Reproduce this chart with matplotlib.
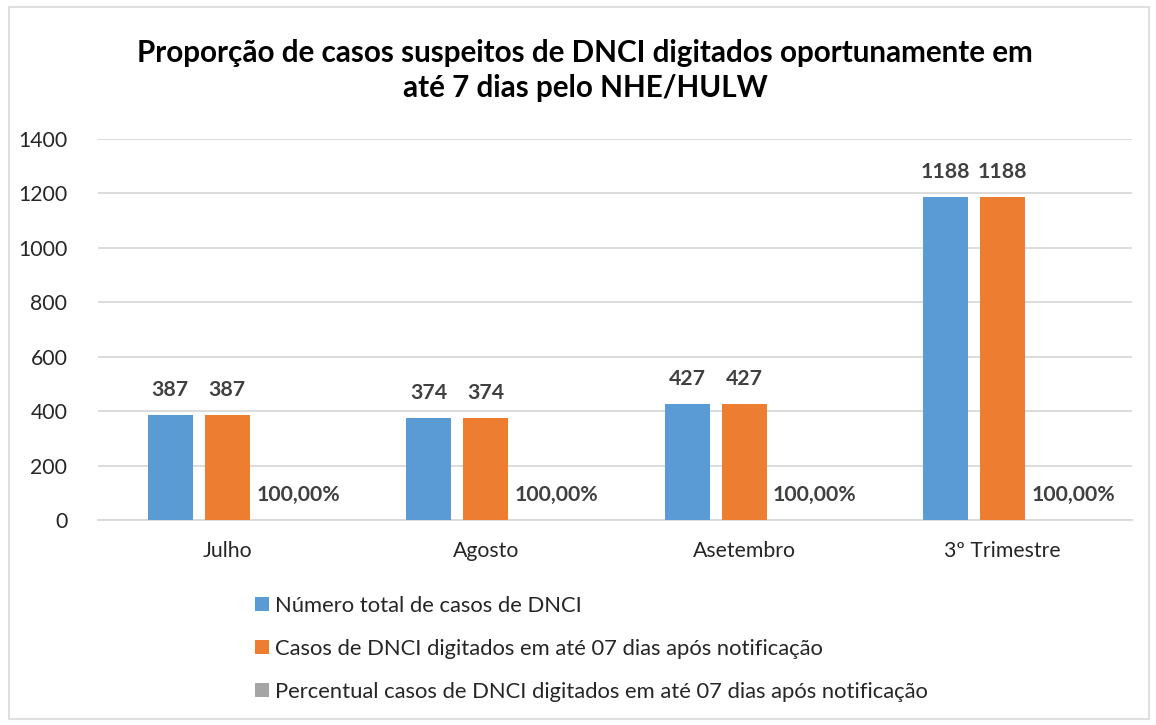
import matplotlib
matplotlib.use("Agg")
import matplotlib.pyplot as plt
import numpy as np
from matplotlib.patches import Rectangle

categories = ["Julho", "Agosto", "Asetembro", "3º Trimestre"]
total_casos = [387, 374, 427, 1188]
casos_7_dias = [387, 374, 427, 1188]
percentual = [1.0, 1.0, 1.0, 1.0]
series_names = ["Número total de casos de DNCI",
                "Casos de DNCI digitados em até 07 dias após notificação",
                "Percentual casos de DNCI digitados em até 07 dias após notificação"]
y_ticks = [0, 200, 400, 600, 800, 1000, 1200, 1400]

plt.rcParams['font.family'] = ['Lato', 'DejaVu Sans']

fig = plt.figure(figsize=(11.56, 7.25), dpi=100)
fig.patches.append(Rectangle((9 / 1156, 6 / 725), 1140 / 1156, 712 / 725, transform=fig.transFigure,
                             fill=False, edgecolor="#D9D9D9", linewidth=1.2))

ax = fig.add_axes([0.0848, 0.2828, 0.8942, 0.5255])

x = np.arange(len(categories))
width = 0.174
step = 0.2205
colors = ["#5B9BD5", "#ED7D31", "#A5A5A5"]

bars_total = ax.bar(x - step, total_casos, width, color=colors[0], label=series_names[0], zorder=3)
bars_7 = ax.bar(x, casos_7_dias, width, color=colors[1], label=series_names[1], zorder=3)
bars_pct = ax.bar(x + step, percentual, width, color=colors[2], label=series_names[2], zorder=3)

for bars in (bars_total, bars_7):
    for b in bars:
        ax.annotate(str(int(b.get_height())), (b.get_x() + b.get_width() / 2, b.get_height()),
                    xytext=(0, 18), textcoords="offset points", ha="center", va="center",
                    fontsize=15.3, fontweight="bold", color="#404040")
for b, v in zip(bars_pct, percentual):
    ax.annotate(f"{v * 100:.2f}%".replace(".", ","), (b.get_x() + b.get_width() / 2, b.get_height()),
                xytext=(10, 18), textcoords="offset points", ha="center", va="center",
                fontsize=15.3, fontweight="bold", color="#404040")

ax.set_ylim(0, 1400)
ax.set_xlim(-0.5, len(categories) - 0.5)
ax.set_yticks(y_ticks)
ax.set_xticks(x)
ax.set_xticklabels(categories)
ax.tick_params(axis="both", length=0, labelsize=15.3, labelcolor="#262626")
ax.tick_params(axis="x", pad=15)
ax.tick_params(axis="y", pad=22)
ax.grid(axis="y", color="#D9D9D9", linewidth=1.3, zorder=0)
for s in ["top", "right", "left"]:
    ax.spines[s].set_visible(False)
ax.spines["bottom"].set_color("#D9D9D9")
ax.spines["bottom"].set_linewidth(1.3)

fig.text(0.506, 0.903, "Proporção de casos suspeitos de DNCI digitados oportunamente em\naté 7 dias pelo NHE/HULW",
         ha="center", va="center", fontsize=21.3, fontweight="bold", color="black", linespacing=1.3)

leg = fig.legend(loc="upper left", bbox_to_anchor=(0.213, 0.19), ncol=1, frameon=False,
                 fontsize=15.8, handlelength=0.62, handleheight=0.62, handletextpad=0.3,
                 labelspacing=1.04, borderaxespad=0)
for t in leg.get_texts():
    t.set_color("#262626")

fig.savefig("out.png", dpi=100)
